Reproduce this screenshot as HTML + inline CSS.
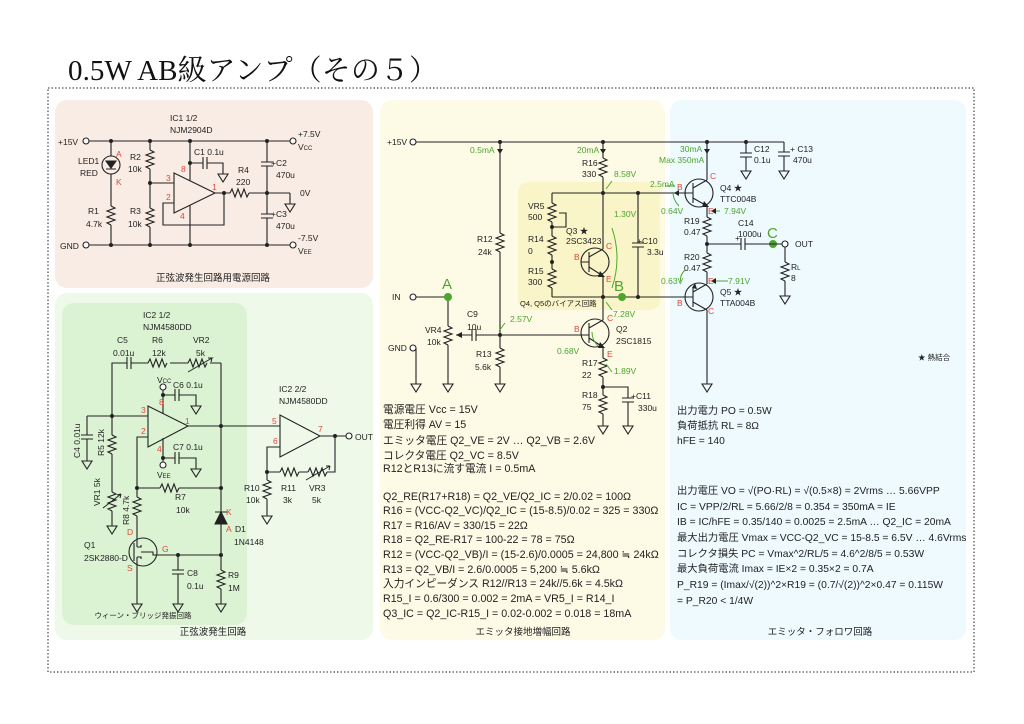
<!DOCTYPE html>
<html><head><meta charset="utf-8"><style>
body{margin:0;background:#fff;}
svg{display:block;font-family:"Liberation Sans","Noto Sans CJK JP",sans-serif;}
.w{fill:none;stroke:#222;stroke-width:1.1}
.t{font-size:8.5px;fill:#222}
.g{font-size:8.5px;fill:#4ca52e}
.r{font-size:8.5px;fill:#e0473a}
.m{font-size:10.7px;fill:#222}
.m2{font-size:10.3px;fill:#222}
.c{font-size:9.5px;fill:#222;text-anchor:middle}
.d{fill:#222}
</style></head><body>
<svg width="1024" height="724" viewBox="0 0 1024 724" xmlns="http://www.w3.org/2000/svg">
<defs>
<path id="rv" d="M0 0 l4 2 l-8 3 l8 3 l-8 3 l8 3 l-8 3 l4 2" fill="none" stroke="#222" stroke-width="1.1"/>
<path id="rh" d="M0 0 l2 -4 l3 8 l3 -8 l3 8 l3 -8 l3 8 l2 -4" fill="none" stroke="#222" stroke-width="1.1"/>
<path id="gd" d="M0 0 v6 M-5 6 h10 l-5 8 z" fill="none" stroke="#222" stroke-width="1.1"/>
</defs>
<text x="68" y="80" font-family="Liberation Serif,Noto Serif CJK SC,serif" font-size="29" fill="#111" textLength="370">0.5W AB級アンプ（その５）</text>
<rect x="48" y="88" width="926" height="584" fill="none" stroke="#222" stroke-dasharray="1.5,2"/>
<rect x="55" y="100" width="318" height="188" rx="12" fill="#f9ece4"/>
<rect x="55" y="293" width="318" height="347" rx="12" fill="#eef9ea"/>
<rect x="62" y="303" width="185" height="322" rx="12" fill="#dcf3d3"/>
<rect x="380" y="100" width="285" height="540" rx="12" fill="#fdfbe6"/>
<rect x="518" y="182" width="142" height="128" rx="10" fill="#faf5c8"/>
<rect x="670" y="100" width="296" height="540" rx="12" fill="#eefafd"/>

<!-- power circuit -->
<g class="w">
<path d="M89 141 H290 M89 245 H290"/>
<path d="M111 141 V156 M111 174 V206 M111 225 V245"/>
<circle cx="111" cy="165" r="9"/>
<path d="M106 161 h10 l-5 7 z M106 169 h10" fill="#222"/>
<path d="M150 141 V150 M150 169 V208 M150 227 V245 M150 183 H174"/>
<path d="M174 173 L174 213 L215 193 Z"/>
<path d="M190 141 V181 M190 205 V245 M174 203 H163 V225 H224 V193 M215 193 H230 M249 193 H290"/>
<path d="M190 163 H203 M203 157 V169 M207 157 V169 M207 163 H223 V168"/>
<path d="M267 141 V162 M261 162 H273 M261 166 H273 M267 166 V214 M261 214 H273 M261 218 H273 M267 218 V245"/>
<path d="M290 193 V200"/>
<circle cx="86" cy="141" r="3" fill="#fff"/><circle cx="86" cy="245" r="3" fill="#fff"/>
<circle cx="293" cy="141" r="3" fill="#fff"/><circle cx="293" cy="245" r="3" fill="#fff"/>
</g>
<use href="#rv" x="111" y="206"/><use href="#rv" x="150" y="150"/><use href="#rv" x="150" y="208"/>
<use href="#rh" x="230" y="193"/><use href="#gd" x="223" y="168"/><use href="#gd" x="290" y="198"/>
<g class="d"><circle cx="111" cy="141" r="2"/><circle cx="111" cy="245" r="2"/><circle cx="150" cy="141" r="2"/><circle cx="150" cy="245" r="2"/><circle cx="150" cy="183" r="2"/><circle cx="190" cy="141" r="2"/><circle cx="190" cy="245" r="2"/><circle cx="190" cy="163" r="2"/><circle cx="224" cy="193" r="2"/><circle cx="267" cy="141" r="2"/><circle cx="267" cy="245" r="2"/><circle cx="267" cy="193" r="2"/></g>
<text class="t" x="58" y="145">+15V</text><text class="t" x="60" y="249">GND</text>
<text class="t" x="170" y="121">IC1 1/2</text><text class="t" x="170" y="133">NJM2904D</text>
<text class="t" x="298" y="137">+7.5V</text><text class="t" x="298" y="150">V<tspan font-size="6">CC</tspan></text>
<text class="t" x="300" y="196">0V</text><text class="t" x="298" y="241">-7.5V</text><text class="t" x="298" y="254">V<tspan font-size="6">EE</tspan></text>
<text class="t" x="78" y="164">LED1</text><text class="t" x="80" y="176">RED</text><text class="r" x="116" y="157">A</text><text class="r" x="116" y="185">K</text>
<text class="t" x="130" y="160">R2</text><text class="t" x="128" y="172">10k</text><text class="t" x="88" y="214">R1</text><text class="t" x="86" y="227">4.7k</text>
<text class="t" x="130" y="214">R3</text><text class="t" x="128" y="227">10k</text>
<text class="r" x="166" y="181">3</text><text class="r" x="181" y="172">8</text><text class="r" x="212" y="190">1</text><text class="r" x="166" y="200">2</text><text class="r" x="180" y="219">4</text>
<text class="t" x="194" y="155">C1 0.1u</text><text class="t" x="238" y="173">R4</text><text class="t" x="236" y="185">220</text>
<text class="t" x="271" y="166">+C2</text><text class="t" x="276" y="178">470u</text><text class="t" x="271" y="217">+C3</text><text class="t" x="276" y="229">470u</text>
<text class="c" x="213" y="281">正弦波発生回路用電源回路</text>

<!-- oscillator -->
<g class="w">
<path d="M112 416 V363 H127 M131 363 H148 M170 363 H188 M210 363 H221 M127 357 V369 M131 357 V369"/>
<path d="M148 406 L148 447 L188 426 Z"/>
<path d="M87 416 H148 M87 416 V435 M81 435 H93 M81 439 H93 M87 439 V455"/>
<path d="M112 416 V435 M112 454 V492 M112 511 V520"/>
<path d="M148 437 H137 V488 H160 M179 488 H221 M137 488 V497 M137 516 V540"/>
<path d="M163 390 V414 M163 395 H175 M175 389 V401 M179 389 V401 M179 395 H196 V400"/>
<path d="M163 438 V462 M163 458 H175 M175 452 V464 M179 452 V464 M179 458 H196 V463"/>
<path d="M188 426 H280 M221 363 V512 M221 524 V570 M221 589 V598"/>
<path d="M215 512 h12 M215 524 h12 l-6 -12 z" fill="#222"/>
<circle cx="143" cy="552" r="14"/>
<path d="M137 540 V545 M134 543 V561 M137 543 V547 M137 557 V561 M137 547 H141 V545 M137 557 H141 V559 M141 552 H153 V555 H221 M137 561 V598"/>
<path d="M178 555 V570 M172 570 H184 M172 574 H184 M178 574 V598"/>
<path d="M280 415 L280 457 L320 436 Z M280 447 H267 V472 H280 M299 472 H308 M327 472 H335 V436 M320 436 H346 M267 472 V480 M267 499 V510"/>
<circle cx="163" cy="387" r="3" fill="#fff"/><circle cx="163" cy="465" r="3" fill="#fff"/><circle cx="349" cy="436" r="3" fill="#fff"/>
</g>
<g fill="none" stroke="#222" stroke-width="1"><path d="M188 372 L212 358 l-4 0 M212 358 l-1 4"/><path d="M103 508 L121 494 M121 494 l-4 1 M121 494 l-1 4"/><path d="M306 480 L330 466 M330 466 l-4 0 M330 466 l-1 4"/></g>
<use href="#rh" x="148" y="363"/><use href="#rh" x="188" y="363"/><use href="#rh" x="160" y="488"/><use href="#rh" x="280" y="472"/><use href="#rh" x="308" y="472"/>
<use href="#rv" x="112" y="435"/><use href="#rv" x="112" y="492"/><use href="#rv" x="137" y="497"/><use href="#rv" x="221" y="570"/><use href="#rv" x="267" y="480"/>
<use href="#gd" x="87" y="455"/><use href="#gd" x="112" y="520"/><use href="#gd" x="196" y="400"/><use href="#gd" x="196" y="463"/><use href="#gd" x="137" y="598"/><use href="#gd" x="178" y="598"/><use href="#gd" x="221" y="598"/><use href="#gd" x="267" y="510"/>
<g class="d"><circle cx="112" cy="416" r="2"/><circle cx="163" cy="395" r="2"/><circle cx="163" cy="458" r="2"/><circle cx="221" cy="426" r="2"/><circle cx="221" cy="488" r="2"/><circle cx="137" cy="488" r="2"/><circle cx="178" cy="555" r="2"/><circle cx="221" cy="555" r="2"/><circle cx="267" cy="472" r="2"/><circle cx="335" cy="436" r="2"/></g>
<text class="t" x="143" y="318">IC2 1/2</text><text class="t" x="143" y="330">NJM4580DD</text>
<text class="t" x="117" y="343">C5</text><text class="t" x="113" y="356">0.01u</text><text class="t" x="152" y="343">R6</text><text class="t" x="152" y="356">12k</text><text class="t" x="193" y="343">VR2</text><text class="t" x="196" y="356">5k</text>
<text class="t" x="157" y="383">V<tspan font-size="6">CC</tspan></text><text class="t" x="173" y="388">C6 0.1u</text><text class="t" x="173" y="450">C7 0.1u</text><text class="t" x="157" y="478">V<tspan font-size="6">EE</tspan></text>
<text class="r" x="141" y="413">3</text><text class="r" x="159" y="405">8</text><text class="r" x="185" y="424">1</text><text class="r" x="141" y="434">2</text><text class="r" x="157" y="452">4</text>
<text class="t" transform="translate(80,458) rotate(-90)">C4 0.01u</text><text class="t" transform="translate(104,456) rotate(-90)">R5 12k</text>
<text class="t" transform="translate(100,506) rotate(-90)">VR1 5k</text><text class="t" transform="translate(129,525) rotate(-90)">R8 4.7k</text>
<text class="t" x="175" y="500">R7</text><text class="t" x="176" y="513">10k</text>
<text class="r" x="226" y="515">K</text><text class="r" x="226" y="532">A</text><text class="t" x="235" y="532">D1</text><text class="t" x="234" y="545">1N4148</text>
<text class="t" x="84" y="548">Q1</text><text class="t" x="84" y="561">2SK2880-D</text><text class="r" x="127" y="535">D</text><text class="r" x="162" y="552">G</text><text class="r" x="127" y="571">S</text>
<text class="t" x="187" y="576">C8</text><text class="t" x="187" y="589">0.1u</text><text class="t" x="228" y="578">R9</text><text class="t" x="228" y="591">1M</text>
<text class="t" x="279" y="392">IC2 2/2</text><text class="t" x="279" y="404">NJM4580DD</text>
<text class="r" x="272" y="424">5</text><text class="r" x="273" y="444">6</text><text class="r" x="318" y="432">7</text><text class="t" x="355" y="440">OUT</text>
<text class="t" x="244" y="491">R10</text><text class="t" x="246" y="503">10k</text><text class="t" x="281" y="491">R11</text><text class="t" x="283" y="503">3k</text><text class="t" x="309" y="491">VR3</text><text class="t" x="312" y="503">5k</text>
<text x="143" y="618" font-size="7.5" fill="#222" text-anchor="middle">ウィーン・ブリッジ発振回路</text>
<text class="c" x="213" y="635">正弦波発生回路</text>

<!-- common emitter -->
<g class="w">
<path d="M416 142 H784"/>
<path d="M500 142 V233 M500 252 V348 M500 367 V378"/>
<path d="M416 297 H448 V326 M448 345 V378 M416 348 V378"/>
<path d="M456 335 H472 M472 329 V341 M476 329 V341 M476 335 H589"/>
<path d="M603 142 V158 M603 177 V249 M603 276 V320 M603 347 V358 M603 377 V395 M603 414 V420"/>
<path d="M552 193 H678 M552 297 H678 M552 193 V203 M552 222 V236 M552 255 V269 M552 288 V297"/>
<path d="M552 227 H566 V213 H559"/>
<path d="M581 262 H589 M589 252 V272 M589 257 L603 249 M589 267 L603 276"/>
<circle cx="595" cy="262" r="14"/>
<circle cx="595" cy="333" r="14"/>
<path d="M589 323 V343 M589 328 L603 320 M589 338 L603 347"/>
<path d="M638 193 V243 M632 243 H644 M632 247 H644 M638 247 V297"/>
<path d="M603 387 H628 V398 M622 398 H634 M622 402 H634 M628 402 V420"/>
<circle cx="413" cy="142" r="3" fill="#fff"/><circle cx="413" cy="297" r="3" fill="#fff"/><circle cx="413" cy="348" r="3" fill="#fff"/>
</g>
<g fill="#222"><path d="M600 271 l5 6 l-7 0 z M600 342 l5 6 l-7 0 z M497 149 h6 l-3 5 z M600 149 h6 l-3 5 z M704 149 h6 l-3 5 z M456 335 l6 -3 v6 z"/></g>
<use href="#rv" x="500" y="233"/><use href="#rv" x="500" y="348"/><use href="#rv" x="448" y="326"/><use href="#rv" x="603" y="158"/><use href="#rv" x="552" y="203"/><use href="#rv" x="552" y="236"/><use href="#rv" x="552" y="269"/><use href="#rv" x="603" y="358"/><use href="#rv" x="603" y="395"/>
<use href="#gd" x="500" y="378"/><use href="#gd" x="448" y="378"/><use href="#gd" x="416" y="378"/><use href="#gd" x="603" y="420"/><use href="#gd" x="628" y="420"/>
<g class="d"><circle cx="500" cy="142" r="2"/><circle cx="603" cy="142" r="2"/><circle cx="707" cy="142" r="2"/><circle cx="746" cy="142" r="2"/><circle cx="500" cy="335" r="2"/><circle cx="603" cy="193" r="2"/><circle cx="603" cy="297" r="2"/><circle cx="638" cy="193" r="2"/><circle cx="638" cy="297" r="2"/><circle cx="552" cy="227" r="2"/><circle cx="552" cy="262" r="2"/><circle cx="603" cy="387" r="2"/><circle cx="707" cy="244" r="2"/></g>
<circle cx="448" cy="297" r="4" fill="#4ca52e"/><circle cx="622" cy="297" r="4" fill="#4ca52e"/><circle cx="773" cy="244" r="4" fill="#4ca52e"/>
<text x="442" y="289" font-size="15" fill="#4ca52e">A</text><text x="614" y="291" font-size="15" fill="#4ca52e">B</text><text x="767" y="238" font-size="15" fill="#4ca52e">C</text>
<g fill="none" stroke="#4ca52e" stroke-width="1"><path d="M505 323 l-6 8 M612 181 l-6 8 M612 310 l-6 -8 M612 372 l-6 -8 M598 346 q-6 -6 -6 -14 M612 288 q10 -30 0 -60 M679 206 q-6 -6 -6 -14 M681 282 q-2 -6 4 -12 M720 211 h-9 M728 281 h-17 M665 186 h10"/></g>
<text class="g" x="470" y="153">0.5mA</text><text class="t" x="477" y="242">R12</text><text class="t" x="478" y="255">24k</text>
<text class="t" x="476" y="357">R13</text><text class="t" x="475" y="370">5.6k</text><text class="t" x="425" y="333">VR4</text><text class="t" x="427" y="345">10k</text>
<text class="t" x="467" y="317">C9</text><text class="t" x="467" y="330">10u</text><text class="g" x="510" y="322">2.57V</text>
<text class="t" x="392" y="300">IN</text><text class="t" x="388" y="351">GND</text><text class="t" x="387" y="145">+15V</text>
<text class="g" x="577" y="153">20mA</text><text class="t" x="582" y="166">R16</text><text class="t" x="582" y="177">330</text><text class="g" x="614" y="177">8.58V</text>
<text class="t" x="528" y="209">VR5</text><text class="t" x="528" y="220">500</text><text class="t" x="566" y="234">Q3 ★</text><text class="t" x="566" y="244">2SC3423</text>
<text class="t" x="528" y="242">R14</text><text class="t" x="528" y="254">0</text><text class="t" x="528" y="274">R15</text><text class="t" x="528" y="285">300</text>
<text class="r" x="606" y="249">C</text><text class="r" x="574" y="260">B</text><text class="r" x="606" y="282">E</text><text class="g" x="614" y="217">1.30V</text>
<text class="t" x="637" y="244">+C10</text><text class="t" x="647" y="255">3.3u</text>
<text x="520" y="306" font-size="7.5" fill="#222">Q4, Q5のバイアス回路</text>
<text class="g" x="613" y="317">7.28V</text><text class="r" x="607" y="321">C</text><text class="r" x="574" y="332">B</text><text class="t" x="616" y="332">Q2</text><text class="t" x="616" y="344">2SC1815</text>
<text class="r" x="607" y="357">E</text><text class="g" x="557" y="354">0.68V</text><text class="t" x="582" y="366">R17</text><text class="t" x="582" y="378">22</text><text class="g" x="614" y="374">1.89V</text>
<text class="t" x="582" y="398">R18</text><text class="t" x="582" y="410">75</text><text class="t" x="631" y="399">+C11</text><text class="t" x="638" y="411">330u</text>
<text class="g" x="650" y="187">2.5mA</text><text class="g" x="661" y="214">0.64V</text><text class="g" x="661" y="284">0.63V</text>

<!-- emitter follower -->
<g class="w">
<path d="M707 142 V180 M707 206 V217 M707 236 V253 M707 272 V284 M707 310 V378"/>
<circle cx="699" cy="193" r="14"/><circle cx="699" cy="297" r="14"/>
<path d="M693 183 V203 M693 188 L707 180 M693 198 L707 206 M693 287 V307 M693 292 L707 284 M693 302 L707 310 M678 193 H693 M678 297 H693"/>
<path d="M746 142 V153 M740 153 H752 M740 157 H752 M746 157 V165 M784 142 V152 M778 152 H790 M778 156 H790 M784 156 V165"/>
<path d="M707 244 H741 M741 238 V250 M745 238 V250 M745 244 H782 M785 247 V262 M785 281 V290"/>
<circle cx="785" cy="244" r="3" fill="#fff"/>
</g>
<g fill="#222"><path d="M704 201 l5 6 l-7 0 z M697 289 l-5 -1 l3 -5 z M711 211 l5 -3 v6 z M711 281 l5 -3 v6 z M674 193 l5 -3 v6 z"/></g>
<use href="#rv" x="707" y="217"/><use href="#rv" x="707" y="253"/><use href="#rv" x="785" y="262"/>
<use href="#gd" x="707" y="378"/><use href="#gd" x="746" y="165"/><use href="#gd" x="784" y="165"/><use href="#gd" x="785" y="290"/>
<text class="g" x="680" y="152">30mA</text><text class="g" x="659" y="163">Max 350mA</text>
<text class="t" x="754" y="152">C12</text><text class="t" x="754" y="163">0.1u</text><text class="t" x="790" y="152">+ C13</text><text class="t" x="793" y="163">470u</text>
<text class="r" x="710" y="179">C</text><text class="r" x="677" y="190">B</text><text class="t" x="720" y="191">Q4 ★</text><text class="t" x="720" y="202">TTC004B</text>
<text class="r" x="708" y="214">E</text><text class="g" x="724" y="214">7.94V</text><text class="t" x="684" y="224">R19</text><text class="t" x="684" y="235">0.47</text>
<text class="t" x="738" y="226">C14</text><text class="t" x="738" y="237">1000u</text><text class="t" x="735" y="241">+</text><text class="t" x="795" y="247">OUT</text>
<text class="t" x="684" y="260">R20</text><text class="t" x="684" y="271">0.47</text><text class="r" x="708" y="284">E</text><text class="g" x="728" y="284">7.91V</text>
<text class="t" x="720" y="295">Q5 ★</text><text class="t" x="720" y="306">TTA004B</text><text class="r" x="677" y="306">B</text><text class="r" x="708" y="314">C</text>
<text class="t" x="791" y="270">R<tspan font-size="6">L</tspan></text><text class="t" x="791" y="281">8</text>
<text x="918" y="360" font-size="7.5" fill="#222">★ 熱結合</text>

<!-- text blocks -->
<g class="m">
<text x="383" y="413">電源電圧 Vcc = 15V</text>
<text x="383" y="428">電圧利得 AV = 15</text>
<text x="383" y="444">エミッタ電圧 Q2_VE = 2V … Q2_VB = 2.6V</text>
<text x="383" y="459">コレクタ電圧 Q2_VC = 8.5V</text>
<text x="383" y="472">R12とR13に流す電流 I = 0.5mA</text>
<text x="383" y="500">Q2_RE(R17+R18) = Q2_VE/Q2_IC = 2/0.02 = 100Ω</text>
<text x="383" y="514">R16 = (VCC-Q2_VC)/Q2_IC = (15-8.5)/0.02 = 325 = 330Ω</text>
<text x="383" y="529">R17 = R16/AV = 330/15 = 22Ω</text>
<text x="383" y="543">R18 = Q2_RE-R17 = 100-22 = 78 = 75Ω</text>
<text x="383" y="558">R12 = (VCC-Q2_VB)/I = (15-2.6)/0.0005 = 24,800 ≒ 24kΩ</text>
<text x="383" y="573">R13 = Q2_VB/I = 2.6/0.0005 = 5,200 ≒ 5.6kΩ</text>
<text x="383" y="587">入力インピーダンス R12//R13 = 24k//5.6k = 4.5kΩ</text>
<text x="383" y="602">R15_I = 0.6/300 = 0.002 = 2mA = VR5_I = R14_I</text>
<text x="383" y="617">Q3_IC = Q2_IC-R15_I = 0.02-0.002 = 0.018 = 18mA</text>
</g>
<g class="m2">
<text x="677" y="414">出力電力 PO = 0.5W</text>
<text x="677" y="429">負荷抵抗 RL = 8Ω</text>
<text x="677" y="444">hFE = 140</text>
<text x="677" y="494">出力電圧 VO = √(PO·RL) = √(0.5×8) = 2Vrms … 5.66VPP</text>
<text x="677" y="510">IC = VPP/2/RL = 5.66/2/8 = 0.354 = 350mA = IE</text>
<text x="677" y="525">IB = IC/hFE = 0.35/140 = 0.0025 = 2.5mA … Q2_IC = 20mA</text>
<text x="677" y="541">最大出力電圧 Vmax = VCC-Q2_VC = 15-8.5 = 6.5V … 4.6Vrms</text>
<text x="677" y="557">コレクタ損失 PC = Vmax^2/RL/5 = 4.6^2/8/5 = 0.53W</text>
<text x="677" y="572">最大負荷電流 Imax = IE×2 = 0.35×2 = 0.7A</text>
<text x="677" y="588">P_R19 = (Imax/√(2))^2×R19 = (0.7/√(2))^2×0.47 = 0.115W</text>
<text x="677" y="604">= P_R20 &lt; 1/4W</text>
</g>
<text class="c" x="523" y="635">エミッタ接地増幅回路</text>
<text class="c" x="820" y="635">エミッタ・フォロワ回路</text>
</svg>
</body></html>
